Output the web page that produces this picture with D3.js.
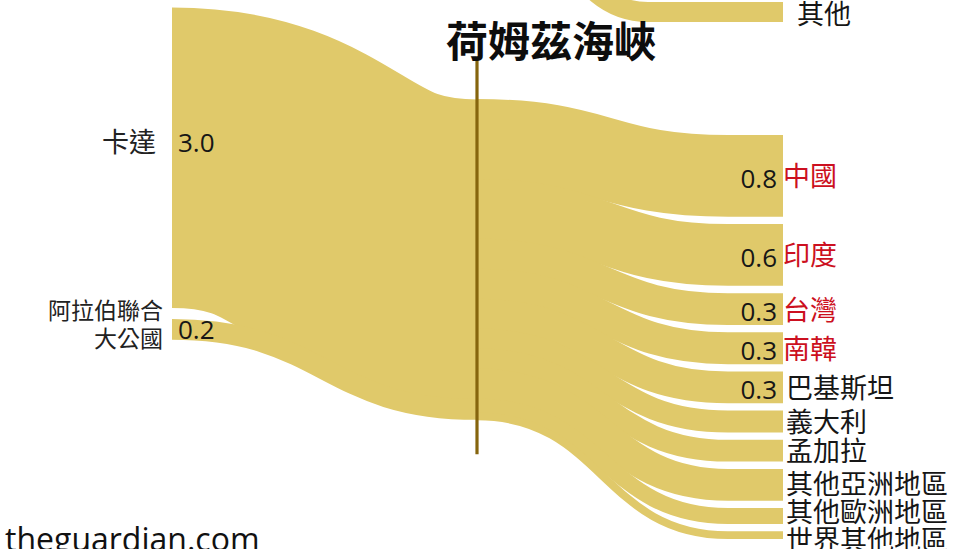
<!DOCTYPE html>
<html>
<head>
<meta charset="utf-8">
<script src="https://cdn.jsdelivr.net/npm/d3@7"></script>
<style>
  html, body { margin: 0; padding: 0; background: #ffffff; }
  svg { display: block; font-family: "Open Sans", "Noto Sans CJK TC", sans-serif; }
</style>
</head>
<body>
<svg id="chart" width="955" height="549"></svg>
<script>
// ---- data -------------------------------------------------------------
// Exporters whose cargoes pass through the strait
const sourceNames = ["卡達", "阿拉伯聯合大公國"];
const sourceValues = [3.0, 0.2];
const sourceLabelLines = [["卡達"], ["阿拉伯聯合", "大公國"]];

// Destinations after the strait, top to bottom
const targetNames = ["中國", "印度", "台灣", "南韓", "巴基斯坦", "義大利", "孟加拉", "其他亞洲地區", "其他歐洲地區", "世界其他地區"];
const targetValues = [0.8, 0.6, 0.3, 0.3, 0.3, 0.2, 0.2, 0.3, 0.14, 0.06];
const highlightedTargets = ["中國", "印度", "台灣", "南韓"];
const valueLabelledTargets = ["中國", "印度", "台灣", "南韓", "巴基斯坦"];

// Flow entering from above the frame
const upperTargetName = "其他";
const upperTargetValue = 0.2;

const titleText = "荷姆茲海峽";
const creditText = "theguardian.com";

// ---- layout -----------------------------------------------------------
const W = 955, H = 549;
// x positions: source column, strait, where the fan settles, destination column
const col = { left: 172, mid: 477, rightBend: 728, right: 783, upperBend: 648 };
const layout = {
  leftTop: 8, leftGap: 12,
  midTop: 100,
  rightTop: 136, rightGap: 9.2,
  upperTargetTop: 2, upperSourceRise: 118,
  labelSpacing: 28, labelFloor: 539,
  seamOverlap: 1,
  fanOverlap: 1.9
};
const bandColor = "#e0c96a";
const strokeLine = "#86650e";
const red = "#cc1020";
const ink = "#161616";

const svg = d3.select("#chart");

// value -> band thickness in pixels
const thickness = d3.scaleLinear().domain([0, 1]).range([0, 99.8]);
const fmt = d3.format(".1f");

function stack(names, values, top, gap) {
  let y = top;
  return values.map((v, i) => {
    const h = thickness(v);
    const node = { name: names[i], value: v, y0: y, y1: y + h };
    y += h + gap;
    return node;
  });
}

const leftNodes = stack(sourceNames, sourceValues, layout.leftTop, layout.leftGap);
const rightNodes = stack(targetNames, targetValues, layout.rightTop, layout.rightGap);

// Links into the strait: stacked on arrival in source order
let yIn = layout.midTop;
const inLinks = leftNodes.map(n => {
  const w = n.y1 - n.y0;
  const l = { width: w, source: [col.left, n.y0 + w / 2], target: [col.mid, yIn + w / 2] };
  yIn += w;
  return l;
});
const midNode = { y0: layout.midTop, y1: yIn };

// Links out of the strait: stacked on departure in target order
let yOut = layout.midTop;
const outLinks = rightNodes.map(n => {
  const w = n.y1 - n.y0;
  const l = { width: w, source: [col.mid, yOut + w / 2], target: [col.rightBend, n.y0 + w / 2] };
  yOut += w;
  return l;
});

const linkPath = d3.linkHorizontal().source(d => d.source).target(d => d.target);

const links = svg.append("g").attr("fill", "none").attr("stroke", bandColor);

// Flow reaching "其他" from beyond the top edge
const upperW = thickness(upperTargetValue);
const upperY = layout.upperTargetTop + upperW / 2;
const upperLink = {
  width: upperW,
  source: [col.mid, upperY - layout.upperSourceRise],
  target: [col.upperBend, upperY]
};
links.append("path")
  .attr("d", linkPath(upperLink) + "H" + col.right)
  .attr("stroke-width", upperLink.width);

// Bands are widened a touch so neighbouring flows meet without hairline seams
links.selectAll("path.in")
  .data(inLinks)
  .join("path")
  .attr("class", "in")
  .attr("d", linkPath)
  .attr("stroke-width", d => d.width + layout.seamOverlap);

// Each outgoing band curves into its slot, then runs level into the destination
links.selectAll("path.out")
  .data(outLinks)
  .join("path")
  .attr("class", "out")
  .attr("d", d => linkPath(d) + "H" + col.right)
  .attr("stroke-width", d => d.width + layout.fanOverlap);

// Strait marker
svg.append("line")
  .attr("x1", col.mid).attr("x2", col.mid)
  .attr("y1", midNode.y0 - 40).attr("y2", midNode.y1 + 35)
  .attr("stroke", strokeLine).attr("stroke-width", 3.2);

// Title
svg.append("text")
  .attr("x", col.mid - 31).attr("y", 57)
  .attr("font-size", 42).attr("font-weight", 700)
  .attr("font-family", "'Noto Sans CJK TC', sans-serif")
  .attr("fill", "#0d0d0d")
  .text(titleText);

// Left labels
const leftLabelDy = [-16, 0];
const leftLabelSize = [27, 23];
leftNodes.forEach((n, i) => {
  const cy = (n.y0 + n.y1) / 2 + leftLabelDy[i];
  const lines = sourceLabelLines[i];
  const lh = 28;
  const g = svg.append("g");
  lines.forEach((line, j) => {
    g.append("text")
      .attr("x", col.left - (lines.length > 1 ? 9 : 16))
      .attr("y", cy + (j - (lines.length - 1) / 2) * lh - (lines.length > 1 ? 5 : 0))
      .attr("text-anchor", "end")
      .attr("dominant-baseline", "central")
      .attr("font-size", leftLabelSize[i])
      .attr("fill", "#222")
      .text(line);
  });
  svg.append("text")
    .attr("x", col.left + 6)
    .attr("y", cy)
    .attr("dominant-baseline", "central")
    .attr("font-size", 26)
    .attr("fill", ink)
    .text(fmt(n.value));
});

// Right labels: spread downward to keep names apart, then lifted back above the floor
const labelY = rightNodes.map(n => (n.y0 + n.y1) / 2);
for (let i = 1; i < labelY.length; i++) {
  labelY[i] = Math.max(labelY[i], labelY[i - 1] + layout.labelSpacing);
}
labelY[labelY.length - 1] = Math.min(labelY[labelY.length - 1], layout.labelFloor);
for (let i = labelY.length - 2; i >= 0; i--) {
  labelY[i] = Math.min(labelY[i], labelY[i + 1] - layout.labelSpacing);
}

rightNodes.forEach((n, i) => {
  const cy = labelY[i];
  const hi = highlightedTargets.includes(n.name);
  svg.append("text")
    .attr("x", col.right + (hi ? 0 : 3))
    .attr("y", cy)
    .attr("dominant-baseline", "central")
    .attr("font-size", 27)
    .attr("fill", hi ? red : ink)
    .text(n.name);
  if (valueLabelledTargets.includes(n.name)) {
    svg.append("text")
      .attr("x", col.right - 6)
      .attr("y", cy + 2)
      .attr("text-anchor", "end")
      .attr("dominant-baseline", "central")
      .attr("font-size", 26)
      .attr("fill", ink)
      .text(fmt(n.value));
  }
});

svg.append("text")
  .attr("x", col.right + 14)
  .attr("y", upperY + 2)
  .attr("dominant-baseline", "central")
  .attr("font-size", 27)
  .attr("fill", ink)
  .text(upperTargetName);

// Source credit
svg.append("text")
  .attr("x", 5).attr("y", 551)
  .attr("font-size", 32)
  .attr("fill", "#111")
  .text(creditText);
</script>
</body>
</html>
